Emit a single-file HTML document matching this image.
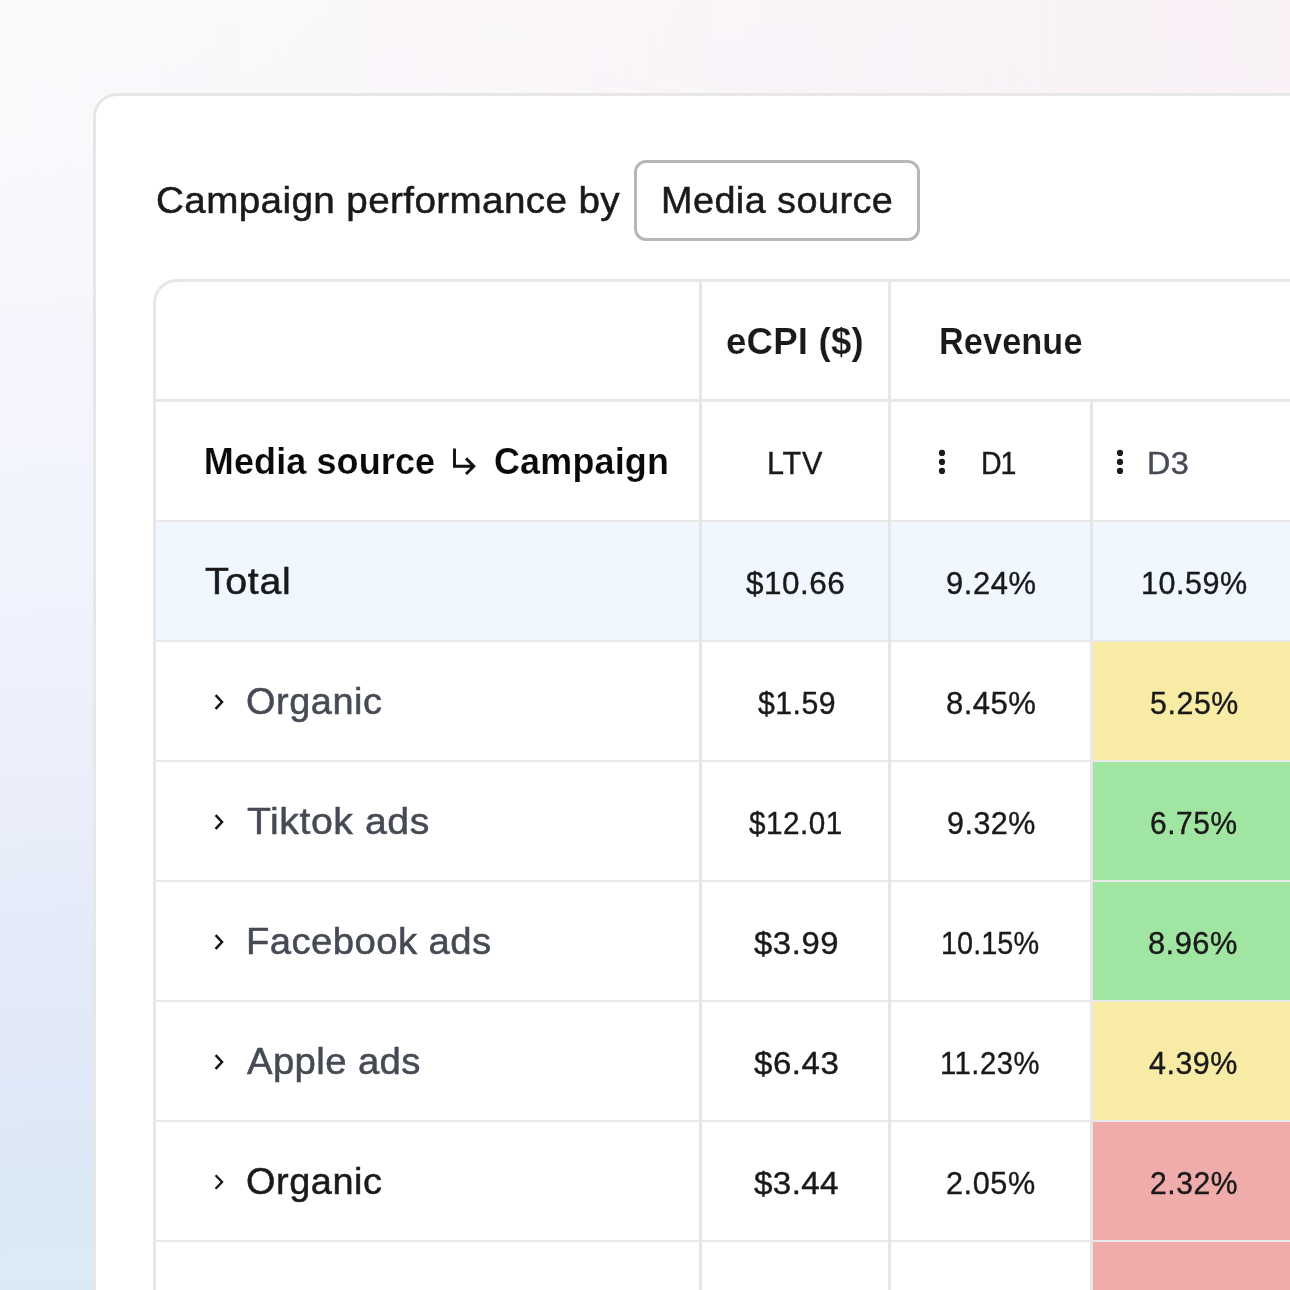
<!DOCTYPE html>
<html lang="en">
<head>
<meta charset="utf-8">
<title>Campaign performance by Media source</title>
<style>
*{box-sizing:border-box;margin:0;padding:0}
html,body{width:1290px;height:1290px;overflow:hidden}
body{font-family:"Liberation Sans",sans-serif;color:#1a1a1a;position:relative;background:#f4f3fb}
.bg{position:absolute;left:0;top:0;width:1290px;height:1290px;
background:linear-gradient(176deg,#fcfbfc 0%,#faf9fc 10%,#f6f6fd 22%,#f1f3fd 42%,#ecf0fb 54%,#e6ebf9 66%,#e0e8f8 77%,#dce9f7 86%,#d8ecf6 100%)}
.bg2{position:absolute;left:0;top:0;width:1290px;height:200px;
background:linear-gradient(90deg,rgba(248,240,245,0) 0%,rgba(248,240,245,.9) 100%);
-webkit-mask-image:linear-gradient(180deg,#000 0%,#000 40%,transparent 100%);mask-image:linear-gradient(180deg,#000 0%,#000 40%,transparent 100%)}
.card{position:absolute;left:93px;top:93px;width:1300px;height:1300px;background:#fff;border:3px solid #e7e7e7;border-radius:24px}
.btn{position:absolute;left:634px;top:160px;width:286px;height:81px;border:3px solid #b7b7b7;border-radius:12px;background:#fff}
.table{position:absolute;left:153px;top:279px;width:1300px;height:1200px;border:3px solid #e7e7e7;border-radius:24px;background:#fff;overflow:hidden}
.hl{position:absolute;left:153px;width:1137px;background:#e7e7e7}
.hl.h2{height:2px;background:#e9e9e9}
.vl{position:absolute;background:#e7e7e7}
.total{position:absolute;left:156px;top:522px;width:1134px;height:118px;background:#f0f7ff}
.heat{position:absolute;left:1093px;width:197px;height:118px}
.t{position:absolute;white-space:nowrap;transform-origin:0 0}
.t.b{font-weight:700;-webkit-text-stroke:0.2px #fff}
.s31{font-size:31px;line-height:35px;-webkit-text-stroke:0.4px currentColor}
.s32{font-size:32px;line-height:36px;-webkit-text-stroke:0.4px currentColor}
.s36{font-size:36px;line-height:41px;-webkit-text-stroke:0.5px currentColor}
.ico{position:absolute}
</style>
</head>
<body>
<div class="bg"></div><div class="bg2"></div>
<div class="card"></div>

<header>
<div class="t s36" style="left:155.93px;top:180px;letter-spacing:0.36px;transform:scaleX(1.073)">Campaign performance by</div>
<div class="btn"></div>
<div class="t s36" style="left:660.82px;top:180px;letter-spacing:0.44px;transform:scaleX(1.049)">Media source</div>
</header>
<section>
<div class="table"></div>
<div class="total"></div>
<div class="heat" style="top:642px;background:#f8eba5"></div>
<div class="heat" style="top:762px;background:#a1e5a3"></div>
<div class="heat" style="top:882px;background:#a1e5a3"></div>
<div class="heat" style="top:1002px;background:#f8eba5"></div>
<div class="heat" style="top:1122px;background:#f0abab"></div>
<div class="heat" style="top:1242px;background:#f0abab"></div>
<div class="hl" style="top:399px;height:3px"></div>
<div class="hl h2" style="top:520px"></div>
<div class="hl h2" style="top:640px"></div>
<div class="hl h2" style="top:760px"></div>
<div class="hl h2" style="top:880px"></div>
<div class="hl h2" style="top:1000px"></div>
<div class="hl h2" style="top:1120px"></div>
<div class="hl h2" style="top:1240px"></div>
<div class="vl" style="left:699px;top:282px;width:3px;height:1010px"></div>
<div class="vl" style="left:888px;top:282px;width:3px;height:1010px"></div>
<div class="vl" style="left:1090px;top:402px;width:3px;height:900px"></div>
<div class="row">
<div class="t s36 b" style="left:725.54px;top:321px;letter-spacing:0.15px;transform:scaleX(1.019)">eCPI ($)</div>
<div class="t s36 b" style="left:938.74px;top:321px;letter-spacing:0.08px;transform:scaleX(0.953)">Revenue</div>
</div>
<div class="row">
<div class="t s36 b" style="left:203.85px;top:441px;letter-spacing:0.10px;color:#0a0a0a">Media source</div>
<svg class="ico" style="left:448px;top:444px" width="34" height="36" viewBox="0 0 34 36"><path d="M6.5 4.4 V22.2 H25.85 M18 14.35 L25.85 22.2 L18 30.05" fill="none" stroke="#111" stroke-width="2.9"/></svg>
<div class="t s36 b" style="left:493.85px;top:441px;letter-spacing:0.17px;transform:scaleX(0.998);color:#0a0a0a">Campaign</div>
<div class="t s31" style="left:767.29px;top:446px;letter-spacing:0.85px;transform:scaleX(0.986)">LTV</div>
<svg class="ico" style="left:937px;top:447px" width="10" height="30" viewBox="0 0 10 30"><circle cx="5" cy="5.9" r="3.1" fill="#1a1a1a"/><circle cx="5" cy="14.9" r="3.1" fill="#1a1a1a"/><circle cx="5" cy="23.9" r="3.1" fill="#1a1a1a"/></svg>
<div class="t s31" style="left:980.50px;top:446px;letter-spacing:-1.20px;transform:scaleX(0.920)">D1</div>
<svg class="ico" style="left:1115px;top:447px" width="10" height="30" viewBox="0 0 10 30"><circle cx="5" cy="5.9" r="3.1" fill="#1a1a1a"/><circle cx="5" cy="14.9" r="3.1" fill="#1a1a1a"/><circle cx="5" cy="23.9" r="3.1" fill="#1a1a1a"/></svg>
<div class="t s31" style="left:1147.02px;top:446px;letter-spacing:0.30px;transform:scaleX(1.046);color:#454a54">D3</div>
</div>
<div class="row">
<div class="t s36" style="left:204.90px;top:561px;letter-spacing:0.64px;transform:scaleX(1.090)">Total</div>
<div class="t s32" style="left:746.04px;top:565px;letter-spacing:0.55px;transform:scaleX(0.982)">$10.66</div>
<div class="t s32" style="left:946.47px;top:565px;letter-spacing:0.58px;transform:scaleX(0.967)">9.24%</div>
<div class="t s32" style="left:1140.99px;top:565px;letter-spacing:0.54px;transform:scaleX(0.954)">10.59%</div>
</div>
<div class="row">
<svg class="ico" style="left:210px;top:690px" width="18" height="24" viewBox="0 0 18 24"><path d="M5.6 5.2 L12 12 L5.6 18.8" fill="none" stroke="#111" stroke-width="2.5"/></svg>
<div class="t s36" style="left:246.19px;top:681px;letter-spacing:0.53px;transform:scaleX(1.052);color:#454a54">Organic</div>
<div class="t s32" style="left:758.23px;top:685px;letter-spacing:0.50px;transform:scaleX(0.945)">$1.59</div>
<div class="t s32" style="left:946.49px;top:685px;letter-spacing:0.47px;transform:scaleX(0.972)">8.45%</div>
<div class="t s32" style="left:1149.68px;top:685px;letter-spacing:0.61px;transform:scaleX(0.948)">5.25%</div>
</div>
<div class="row">
<svg class="ico" style="left:210px;top:810px" width="18" height="24" viewBox="0 0 18 24"><path d="M5.6 5.2 L12 12 L5.6 18.8" fill="none" stroke="#111" stroke-width="2.5"/></svg>
<div class="t s36" style="left:246.71px;top:801px;letter-spacing:0.50px;transform:scaleX(1.090);color:#454a54">Tiktok ads</div>
<div class="t s32" style="left:749.23px;top:805px;letter-spacing:0.54px;transform:scaleX(0.928)">$12.01</div>
<div class="t s32" style="left:947.08px;top:805px;letter-spacing:0.52px;transform:scaleX(0.952)">9.32%</div>
<div class="t s32" style="left:1149.67px;top:805px;letter-spacing:0.61px;transform:scaleX(0.934)">6.75%</div>
</div>
<div class="row">
<svg class="ico" style="left:210px;top:930px" width="18" height="24" viewBox="0 0 18 24"><path d="M5.6 5.2 L12 12 L5.6 18.8" fill="none" stroke="#111" stroke-width="2.5"/></svg>
<div class="t s36" style="left:246.38px;top:921px;letter-spacing:0.41px;transform:scaleX(1.063);color:#454a54">Facebook ads</div>
<div class="t s32" style="left:754.04px;top:925px;letter-spacing:0.58px;transform:scaleX(1.026)">$3.99</div>
<div class="t s32" style="left:940.73px;top:925px;letter-spacing:0.07px;transform:scaleX(0.900)">10.15%</div>
<div class="t s32" style="left:1148.11px;top:925px;letter-spacing:0.50px;transform:scaleX(0.963)">8.96%</div>
</div>
<div class="row">
<svg class="ico" style="left:210px;top:1050px" width="18" height="24" viewBox="0 0 18 24"><path d="M5.6 5.2 L12 12 L5.6 18.8" fill="none" stroke="#111" stroke-width="2.5"/></svg>
<div class="t s36" style="left:247.46px;top:1041px;letter-spacing:0.36px;transform:scaleX(1.064);color:#454a54">Apple ads</div>
<div class="t s32" style="left:754.05px;top:1045px;letter-spacing:0.51px;transform:scaleX(1.032)">$6.43</div>
<div class="t s32" style="left:939.90px;top:1045px;letter-spacing:0.57px;transform:scaleX(0.913)">11.23%</div>
<div class="t s32" style="left:1148.98px;top:1045px;letter-spacing:0.53px;transform:scaleX(0.952)">4.39%</div>
</div>
<div class="row">
<svg class="ico" style="left:210px;top:1170px" width="18" height="24" viewBox="0 0 18 24"><path d="M5.6 5.2 L12 12 L5.6 18.8" fill="none" stroke="#1a1a1a" stroke-width="2.4"/></svg>
<div class="t s36" style="left:246.18px;top:1161px;letter-spacing:0.53px;transform:scaleX(1.052)">Organic</div>
<div class="t s32" style="left:754.05px;top:1165px;letter-spacing:0.37px;transform:scaleX(1.037)">$3.44</div>
<div class="t s32" style="left:946.28px;top:1165px;letter-spacing:0.61px;transform:scaleX(0.957)">2.05%</div>
<div class="t s32" style="left:1149.51px;top:1165px;letter-spacing:0.63px;transform:scaleX(0.939)">2.32%</div>
</div>
</section>
</body>
</html>
